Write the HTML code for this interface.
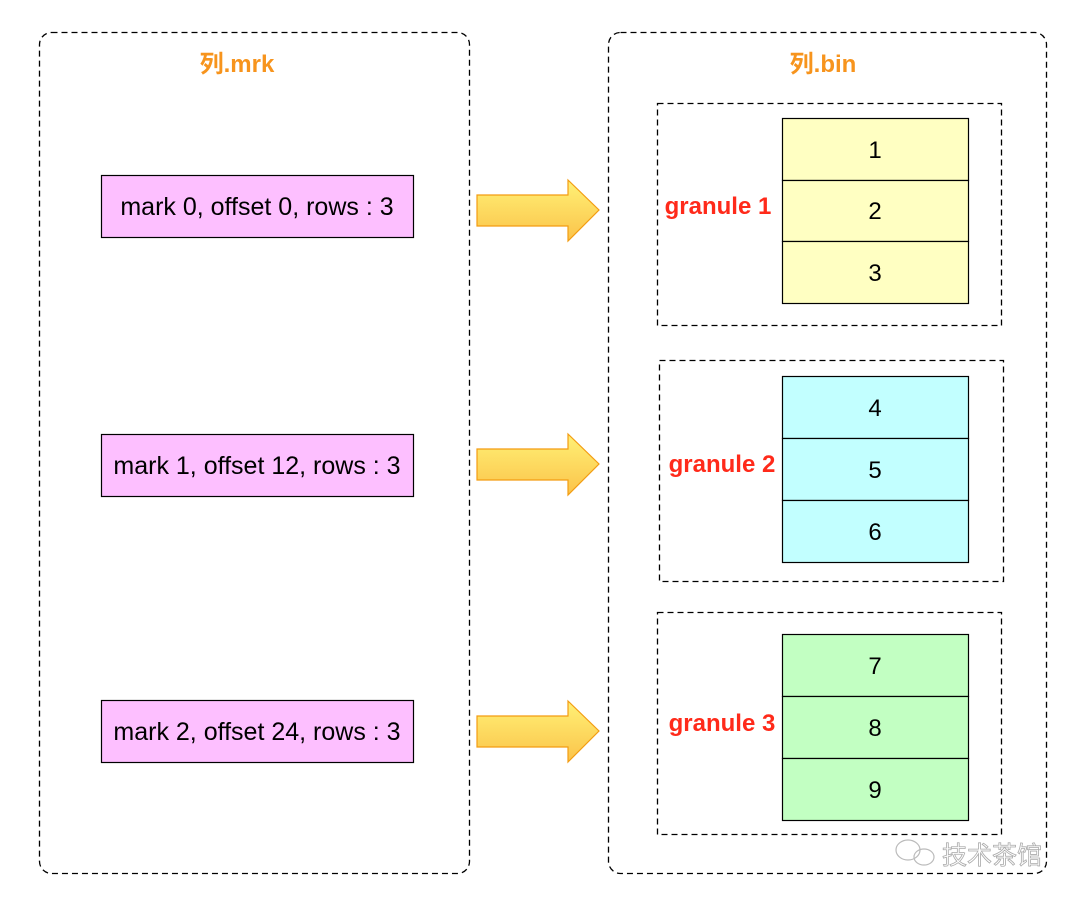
<!DOCTYPE html>
<html><head><meta charset="utf-8"><style>
body{margin:0;width:1080px;height:903px;background:#fff;overflow:hidden}
svg{display:block}
text{font-family:"Liberation Sans","Noto Sans CJK SC",sans-serif}
</style></head><body>
<svg width="1080" height="903" viewBox="0 0 1080 903">
<defs><linearGradient id="g" x1="0" y1="0" x2="0" y2="1"><stop offset="0" stop-color="#fff176"/><stop offset="1" stop-color="#fbc34a"/></linearGradient></defs>
<g fill="none" stroke="#000" stroke-width="1.3" stroke-dasharray="6,4">
<rect x="39.5" y="32.5" width="430" height="841" rx="12"/>
<rect x="608.5" y="32.5" width="438" height="841" rx="12"/>
<rect x="657.5" y="103.5" width="344" height="222"/>
<rect x="659.5" y="360.5" width="344" height="221"/>
<rect x="657.5" y="612.5" width="344" height="222"/>
</g>
<g font-weight="bold" fill="#f7941d" font-size="24" text-anchor="middle">
<text x="237" y="72">列.mrk</text><text x="823" y="72">列.bin</text></g>
<g fill="#fdbfff" stroke="#000" stroke-width="1.2">
<rect x="101.5" y="175.5" width="312" height="62"/>
<rect x="101.5" y="434.5" width="312" height="62"/>
<rect x="101.5" y="700.5" width="312" height="62"/>
</g>
<g font-size="25" text-anchor="middle" fill="#000">
<text x="257" y="215">mark 0, offset 0, rows : 3</text>
<text x="257" y="474">mark 1, offset 12, rows : 3</text>
<text x="257" y="740">mark 2, offset 24, rows : 3</text>
</g>
<g fill="url(#g)" stroke="#f39c12" stroke-width="1.2">
<path d="M477 195H568V180L599 210L568 241V226H477Z"/>
<path d="M477 449H568V434L599 464L568 495V480H477Z"/>
<path d="M477 716H568V701L599 731L568 762V747H477Z"/>
</g>
<g stroke="#000" stroke-width="1.2">
<rect x="782.5" y="118.5" width="186" height="62" fill="#ffffc2"/><rect x="782.5" y="180.5" width="186" height="61" fill="#ffffc2"/><rect x="782.5" y="241.5" width="186" height="62" fill="#ffffc2"/>
<rect x="782.5" y="376.5" width="186" height="62" fill="#c2ffff"/><rect x="782.5" y="438.5" width="186" height="62" fill="#c2ffff"/><rect x="782.5" y="500.5" width="186" height="62" fill="#c2ffff"/>
<rect x="782.5" y="634.5" width="186" height="62" fill="#c2ffc2"/><rect x="782.5" y="696.5" width="186" height="62" fill="#c2ffc2"/><rect x="782.5" y="758.5" width="186" height="62" fill="#c2ffc2"/>
</g>
<g font-size="24" text-anchor="middle">
<text x="875" y="158">1</text><text x="875" y="219">2</text><text x="875" y="281">3</text>
<text x="875" y="416">4</text><text x="875" y="478">5</text><text x="875" y="540">6</text>
<text x="875" y="674">7</text><text x="875" y="736">8</text><text x="875" y="798">9</text>
</g>
<g font-size="24" font-weight="bold" fill="#ff2a1a" text-anchor="middle">
<text x="718" y="214">granule 1</text><text x="722" y="472">granule 2</text><text x="722" y="731">granule 3</text>
</g>
<g fill="none" stroke="#bbb" stroke-width="1.2"><ellipse cx="908" cy="850" rx="12" ry="10"/><ellipse cx="924" cy="857" rx="10" ry="8"/></g>
<text x="992" y="864" font-size="25" fill="#fff" stroke="#aaa" stroke-width="0.8" text-anchor="middle">技术茶馆</text>
</svg>
</body></html>
